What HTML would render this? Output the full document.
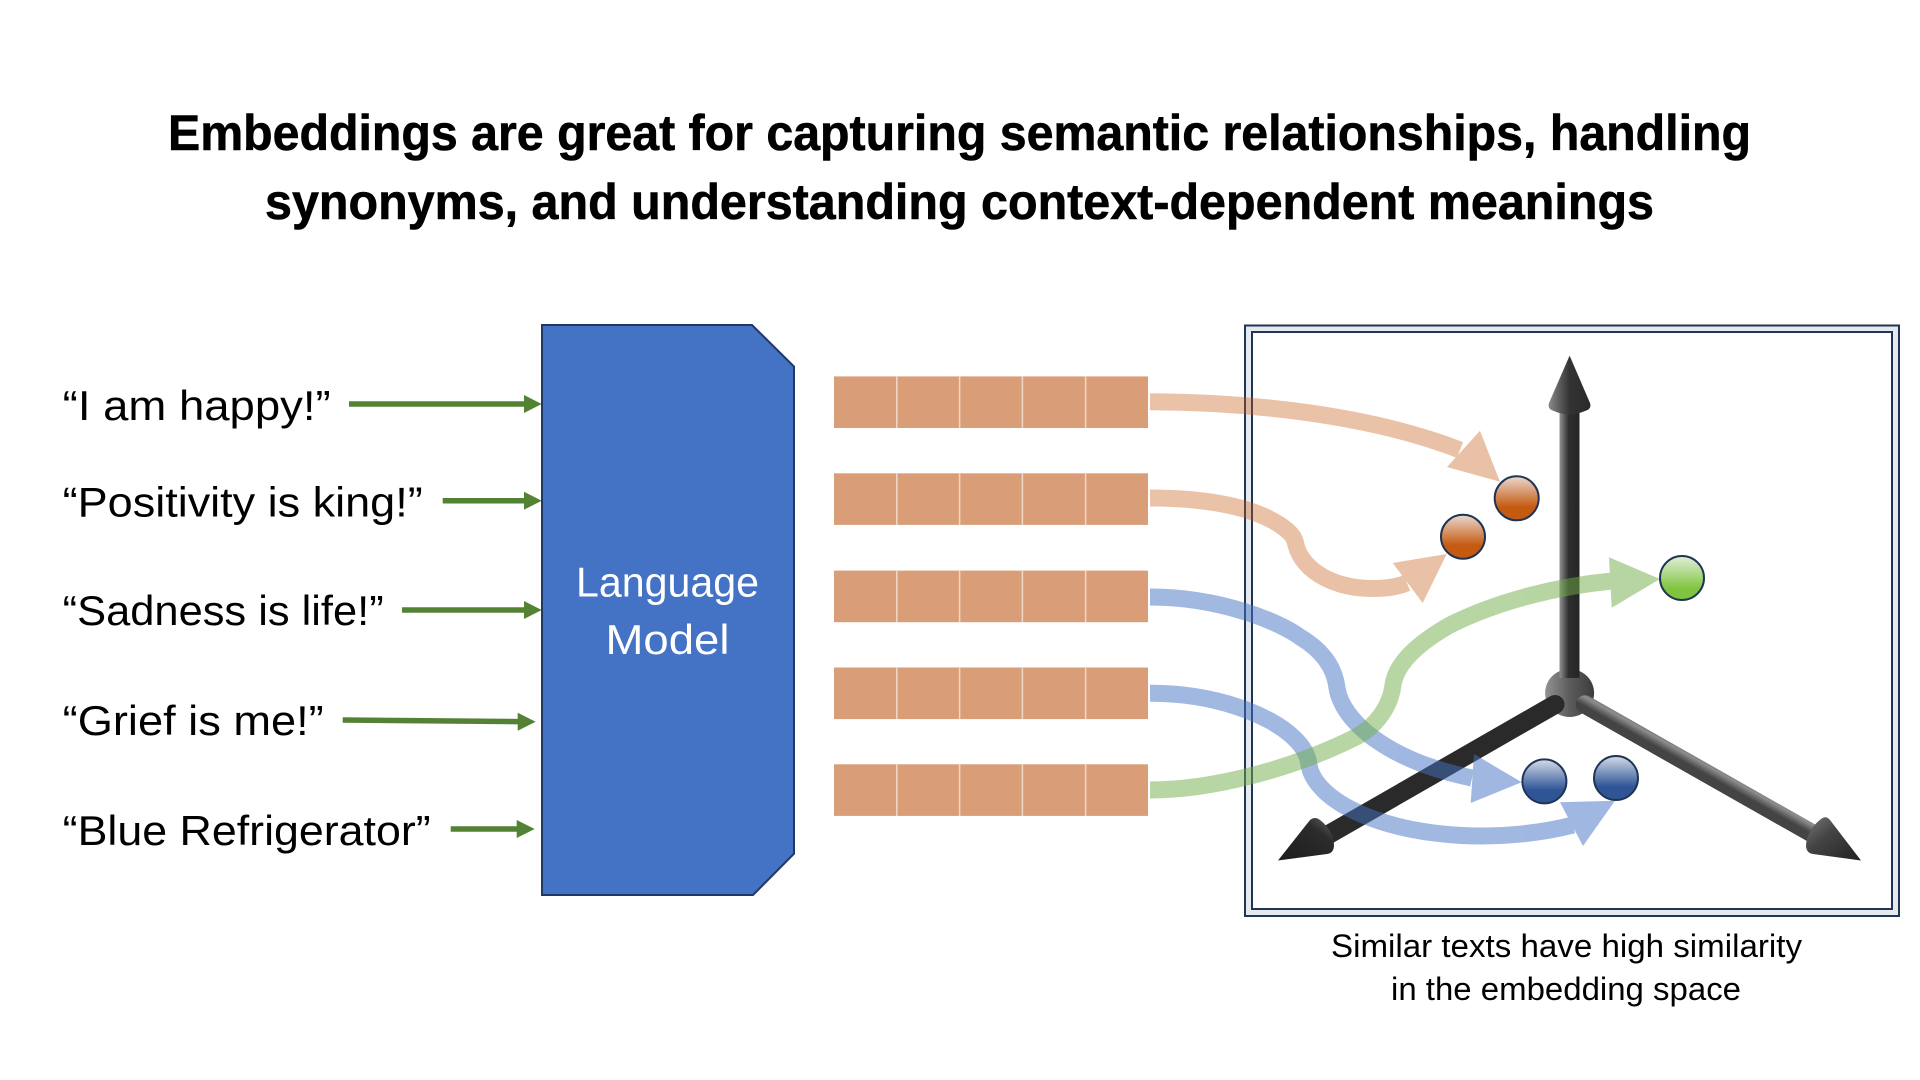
<!DOCTYPE html>
<html><head><meta charset="utf-8"><title>Embeddings</title>
<style>html,body{margin:0;padding:0;background:#fff;width:1920px;height:1080px;overflow:hidden}svg{display:block}text{font-family:"Liberation Sans",sans-serif;fill:#000}</style>
</head><body>
<svg width="1920" height="1080" viewBox="0 0 1920 1080" xmlns="http://www.w3.org/2000/svg">
<defs>
<linearGradient id="vs" gradientUnits="userSpaceOnUse" x1="1560" y1="0" x2="1579" y2="0"><stop offset="0" stop-color="#8c8c8c"/><stop offset=".45" stop-color="#2e2e2e"/><stop offset="1" stop-color="#262626"/></linearGradient>
<linearGradient id="rs" gradientUnits="userSpaceOnUse" x1="1702" y1="751" x2="1693" y2="767"><stop offset="0" stop-color="#2e2e2e"/><stop offset=".55" stop-color="#8f8f8f"/><stop offset="1" stop-color="#444"/></linearGradient>
<linearGradient id="vh" x1="0" y1="0" x2="1" y2="0"><stop offset="0" stop-color="#8a8a8a"/><stop offset=".5" stop-color="#333"/><stop offset="1" stop-color="#2a2a2a"/></linearGradient>
<linearGradient id="lh" x1="0" y1="1" x2="1" y2="0"><stop offset="0" stop-color="#1c1c1c"/><stop offset=".7" stop-color="#2c2c2c"/><stop offset="1" stop-color="#666"/></linearGradient>
<linearGradient id="rh" x1="1" y1="1" x2="0" y2="0"><stop offset="0" stop-color="#222"/><stop offset=".6" stop-color="#444"/><stop offset="1" stop-color="#777"/></linearGradient>
<linearGradient id="hub" x1="0" y1="0" x2="1" y2="0"><stop offset="0" stop-color="#929292"/><stop offset=".5" stop-color="#5c5c5c"/><stop offset="1" stop-color="#3c3c3c"/></linearGradient>
<linearGradient id="bo" x1="0" y1="0" x2="0" y2="1"><stop offset="0" stop-color="#ead9d0"/><stop offset=".7" stop-color="#c55a11"/><stop offset="1" stop-color="#c55a11"/></linearGradient>
<linearGradient id="bg" x1="0" y1="0" x2="0" y2="1"><stop offset="0" stop-color="#e2efd9"/><stop offset=".75" stop-color="#7fc43f"/><stop offset="1" stop-color="#7fc43f"/></linearGradient>
<linearGradient id="bb" x1="0" y1="0" x2="0" y2="1"><stop offset="0" stop-color="#d6dce8"/><stop offset=".7" stop-color="#2f5597"/><stop offset="1" stop-color="#2f5597"/></linearGradient>
</defs>

<g style="stroke:#000;stroke-width:.6">
<text font-size="50" font-weight="700" x="168" y="150" textLength="1583" lengthAdjust="spacingAndGlyphs">Embeddings are great for capturing semantic relationships, handling</text>
<text font-size="50" font-weight="700" x="265" y="219" textLength="1389" lengthAdjust="spacingAndGlyphs">synonyms, and understanding context-dependent meanings</text>
</g>

<g font-size="42">
<text x="62.7" y="420" textLength="268" lengthAdjust="spacingAndGlyphs">“I am happy!”</text>
<text x="62.7" y="516.7" textLength="360" lengthAdjust="spacingAndGlyphs">“Positivity is king!”</text>
<text x="62.7" y="625" textLength="321" lengthAdjust="spacingAndGlyphs">“Sadness is life!”</text>
<text x="62.7" y="735" textLength="261" lengthAdjust="spacingAndGlyphs">“Grief is me!”</text>
<text x="62.7" y="845" textLength="368" lengthAdjust="spacingAndGlyphs">“Blue Refrigerator”</text>
</g>

<g stroke="#548235" stroke-width="5.5" fill="none">
<path d="M349 404H526"/><path d="M442.7 500.7H526"/><path d="M402 610H526"/><path d="M342.7 720L520 721.6"/><path d="M450.7 829H519"/>
</g>
<g fill="#548235">
<path d="M541.7 404L524 395V413Z"/><path d="M541.7 500.7L524 491.7V509.7Z"/><path d="M541.7 610L524 601V619Z"/><path d="M535.7 721.7L517.7 712.7V730.7Z"/><path d="M534.7 829L516.7 820V838Z"/>
</g>

<path d="M542 325H752L794 366.5V853.7L753 895H542Z" fill="#4472c4" stroke="#1f3864" stroke-width="2"/>
<text style="fill:#fff" font-size="42" x="576" y="596.7" textLength="183" lengthAdjust="spacingAndGlyphs">Language</text>
<text style="fill:#fff" font-size="42" x="605.5" y="654" textLength="124" lengthAdjust="spacingAndGlyphs">Model</text>

<g fill="#d99e77">
<rect x="834" y="376.4" width="314" height="51.6"/>
<rect x="834" y="473.3" width="314" height="51.6"/>
<rect x="834" y="570.6" width="314" height="51.6"/>
<rect x="834" y="667.5" width="314" height="51.6"/>
<rect x="834" y="764.3" width="314" height="51.6"/>
</g>
<g stroke="#f0d8c8" stroke-width="1.5">
<path d="M896.8 376V428M959.6 376V428M1022.4 376V428M1085.6 376V428"/>
<path d="M896.8 473V525M959.6 473V525M1022.4 473V525M1085.6 473V525"/>
<path d="M896.8 570V622M959.6 570V622M1022.4 570V622M1085.6 570V622"/>
<path d="M896.8 667V719M959.6 667V719M1022.4 667V719M1085.6 667V719"/>
<path d="M896.8 764V816M959.6 764V816M1022.4 764V816M1085.6 764V816"/>
</g>

<rect x="1245" y="325.5" width="654" height="590.5" fill="#e6e9ee" stroke="#1f3556" stroke-width="2"/>
<rect x="1252" y="332" width="640" height="577" fill="#fff" stroke="#1f3556" stroke-width="2"/>

<ellipse cx="1569.6" cy="693" rx="24.5" ry="24" fill="url(#hub)"/>
<line x1="1569.5" y1="412" x2="1569.5" y2="678" stroke="url(#vs)" stroke-width="20"/>
<line x1="1555" y1="704.5" x2="1326" y2="836" stroke="#2a2a2a" stroke-width="19" stroke-linecap="round"/>
<line x1="1585" y1="704.5" x2="1815" y2="835" stroke="url(#rs)" stroke-width="18.5" stroke-linecap="round"/>
<path d="M1569.6 355.6L1590 403Q1592 409 1585 411Q1569 418 1554 411Q1547 409 1549 403Z" fill="url(#vh)"/>
<path d="M1278 860.5L1310 820Q1315 816 1320 820Q1333 830 1334 845Q1334 853 1327 854Z" fill="url(#lh)"/>
<path d="M1861 860.5L1830 820Q1826 815 1821 819Q1807 830 1806 845Q1806 853 1813 854Z" fill="url(#rh)"/>

<g opacity=".37">
<path d="M1150 401.7C1250 402 1370 415 1460 450" fill="none" stroke="#c55a11" stroke-width="17"/>
<path d="M1500 481.7L1480 430.7L1447 467Z" fill="#c55a11"/>
</g>
<g opacity=".37">
<path d="M1150 498C1200 498 1250 505 1280 525C1295 535 1295 541 1296 545C1302 570 1335 592 1385 588Q1397 587 1407 583" fill="none" stroke="#c55a11" stroke-width="17"/>
<path d="M1446.7 554L1392.7 563L1422.7 603Z" fill="#c55a11"/>
</g>
<g opacity=".5">
<path d="M1150 597C1220 597 1280 622 1300 637C1325 652 1335 670 1337 688C1342 720 1385 760 1472 778" fill="none" stroke="#4472c4" stroke-width="17"/>
<path d="M1521.7 782.3L1474 754L1470.7 803Z" fill="#4472c4"/>
</g>
<g opacity=".5">
<path d="M1150 693.3C1215 693 1270 715 1293 737C1305 748 1308 757 1309 765C1315 800 1380 835 1480 836Q1530 836 1573 825" fill="none" stroke="#4472c4" stroke-width="17"/>
<path d="M1615 800.7L1560 802.3L1583 846Z" fill="#4472c4"/>
</g>
<g opacity=".5">
<path d="M1150 790C1210 790 1290 770 1356 737C1378 725 1390 705 1392.7 687C1395 665 1415 645 1450 625C1500 600 1560 586 1612 581" fill="none" stroke="#70ad47" stroke-width="17"/>
<path d="M1660 579L1609 557.3L1611.7 607.7Z" fill="#70ad47"/>
</g>

<g stroke="#1f3556" stroke-width="2">
<circle cx="1516.7" cy="498.3" r="22" fill="url(#bo)"/>
<circle cx="1463" cy="536.7" r="22" fill="url(#bo)"/>
<circle cx="1682" cy="578" r="22" fill="url(#bg)"/>
<circle cx="1544.4" cy="781.4" r="22" fill="url(#bb)"/>
<circle cx="1616" cy="778" r="22" fill="url(#bb)"/>
</g>

<text font-size="32" x="1331" y="957" textLength="471" lengthAdjust="spacingAndGlyphs">Similar texts have high similarity</text>
<text font-size="32" x="1391" y="1000" textLength="350" lengthAdjust="spacingAndGlyphs">in the embedding space</text>
</svg>
</body></html>
